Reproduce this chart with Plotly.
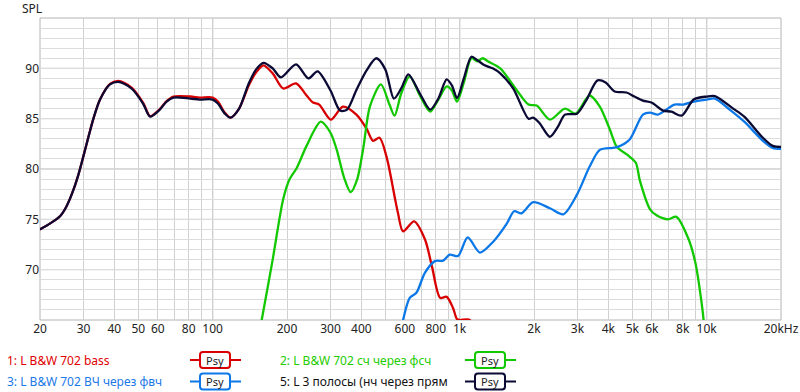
import plotly.graph_objects as go

# ---------------- data ----------------
bass_f = [20, 22, 24.1, 25.5, 27, 28.5, 30, 31.5, 33, 35, 38.4, 41.4, 44, 47.2, 52.4, 55.8, 61.1, 65.1, 69.4, 81.2,
          88.6, 100, 105, 112, 118, 128, 140, 150, 160.6, 175, 193, 217.6, 240, 255, 270, 301, 337, 382, 420, 446,
          474, 506, 548, 563, 590, 654, 724, 772, 834, 886, 940, 975, 1000, 1100, 1130]
bass_db = [74.0, 74.6, 75.3, 76.2, 77.6, 79.3, 81.3, 83.3, 85.1, 86.9, 88.45, 88.75, 88.55, 88.05, 86.55, 85.25, 85.95,
           86.75, 87.2, 87.2, 87.1, 87.1, 86.7, 85.6, 85.1, 86.0, 88.3, 89.6, 90.3, 89.5, 88.0, 88.5, 87.3, 86.6,
           86.4, 84.9, 86.2, 85.4, 84.0, 82.8, 83.1, 81.2, 77.0, 75.6, 73.8, 74.8, 73.0, 70.35, 67.2, 67.3, 66.2,
           65.1, 65.0, 65.0, 60.0]

mid_f = [150, 158, 175, 193, 205, 219, 240, 274, 300, 318, 340, 362, 385, 408, 433, 480, 520, 545, 580, 628, 690,
         760, 820, 886, 930, 976, 1040, 1116, 1180, 1240, 1300, 1460, 1700, 1900, 2050, 2320, 2669, 2950, 3360, 3694,
         4060, 4330, 4780, 5170, 5360, 5900, 6270, 6980, 7540, 8460, 9000, 9420, 9720, 10000]
mid_db = [62.0, 65.0, 71.0, 77.0, 79.0, 80.1, 82.3, 84.7, 83.6, 81.9, 79.2, 77.7, 79.0, 82.2, 86.2, 88.4, 86.4, 85.3,
          87.5, 89.2, 87.3, 85.7, 86.9, 88.2, 87.8, 86.7, 88.6, 91.0, 90.7, 91.0, 90.7, 90.0, 87.85, 86.4, 86.3, 84.9,
          86.0, 85.5, 87.3, 86.2, 83.9, 82.2, 81.4, 80.6, 78.9, 76.0, 75.4, 75.0, 75.25, 73.0, 70.7, 67.7, 65.0, 60.0]

tw_f = [560, 590, 628, 668, 724, 794, 857, 912, 985, 1078, 1208, 1370, 1554, 1662, 1780, 1986, 2320, 2630, 2985,
        3360, 3694, 4175, 4370, 4870, 5520, 5900, 6350, 6870, 7400, 8040, 8860, 10000, 10800, 12400, 14200, 16900,
        18500, 20000]
tw_db = [62.0, 65.0, 67.2, 67.7, 69.7, 70.85, 70.9, 71.5, 71.35, 73.2, 71.7, 72.8, 74.6, 75.8, 75.6, 76.7, 76.1, 75.5,
         77.45, 80.25, 81.9, 82.1, 82.2, 82.9, 85.4, 85.6, 85.4, 85.9, 86.4, 86.4, 86.7, 86.9, 87.0, 85.9, 84.7,
         82.8, 82.1, 82.0]

sum_f = [20, 22, 24.1, 25.5, 27, 28.5, 30, 31.5, 33, 35, 38.4, 41.4, 44, 47.2, 52.4, 55.8, 61.1, 65.1, 69.4, 81.2,
         88.6, 100, 105, 112, 118, 128, 140, 150, 160.6, 175, 189, 217.6, 244, 266, 300, 328, 350, 382, 420, 460,
         500, 542, 580, 620, 690, 760, 820, 886, 930, 976, 1040, 1116, 1180, 1262, 1360, 1460, 1646, 1900, 1980,
         2100, 2320, 2500, 2669, 2985, 3250, 3616, 3900, 4240, 4737, 5100, 5518, 5980, 6660, 7200, 7920, 8860,
         10000, 10800, 12800, 14200, 16900, 18500, 20000]
sum_db = [74.0, 74.6, 75.3, 76.2, 77.6, 79.3, 81.3, 83.3, 85.1, 86.9, 88.4, 88.65, 88.45, 87.95, 86.45, 85.2, 85.9,
          86.7, 87.1, 87.0, 86.9, 86.9, 86.5, 85.5, 85.1, 86.0, 88.5, 89.9, 90.55, 90.0, 89.1, 90.4, 89.0, 89.7,
          87.8, 85.8, 85.9, 87.85, 89.8, 91.0, 89.9, 87.0, 88.0, 89.4, 87.5, 85.9, 87.0, 88.9, 88.3, 87.05, 89.0,
          91.15, 90.8, 90.3, 90.0, 89.5, 88.0, 85.0, 85.1, 84.6, 83.2, 84.2, 85.4, 85.5, 86.8, 88.8, 88.6, 87.7,
          87.6, 87.2, 86.8, 86.6, 85.8, 85.7, 85.3, 86.9, 87.2, 87.25, 86.0, 85.2, 83.1, 82.3, 82.2]

series_names = ["1: L B&W 702 bass", "2: L B&W 702 сч через фсч",
                "3: L B&W 702 ВЧ через фвч", "5: L 3 полосы (нч через прям"]
colors = ["#d80000", "#12c800", "#0c78e8", "#0a0a34"]
label_colors = ["#e00000", "#22cc00", "#1a78e8", "#111111"]

x_grid = [20, 30, 40, 50, 60, 70, 80, 90, 100, 200, 300, 400, 500, 600, 700, 800, 900, 1000,
          2000, 3000, 4000, 5000, 6000, 7000, 8000, 9000, 10000, 20000]
x_labels = ["20", "30", "40", "50", "60", "", "80", "", "100", "200", "300", "400", "", "600", "", "800", "",
            "1k", "2k", "3k", "4k", "5k", "6k", "", "8k", "", "10k", "20kHz"]
x_major = [100, 1000, 10000]
y_grid = list(range(65, 96))
y_labels = [str(v) if v in (70, 75, 80, 85, 90) else "" for v in y_grid]
y_major = [70, 75, 80, 85, 90]

# ---------------- geometry ----------------
W, H = 800, 392
L, R, T, B = 40, 781, 18, 320
FONT = "Noto Sans, DejaVu Sans, sans-serif"


def px(xp):
    return (xp - L) / (R - L)


def py(yp):
    return (B - yp) / (B - T)


fig = go.Figure()
for f, d, c in [(bass_f, bass_db, colors[0]), (mid_f, mid_db, colors[1]),
                (tw_f, tw_db, colors[2]), (sum_f, sum_db, colors[3])]:
    fig.add_trace(go.Scatter(x=f, y=d, mode="lines", line=dict(color=c, width=2.3, shape="spline", smoothing=0.8),
                             showlegend=False, hoverinfo="skip"))

shapes = []
for xv in x_major:
    shapes.append(dict(type="line", xref="x", yref="paper", x0=xv, x1=xv, y0=0, y1=1, layer="below",
                       line=dict(color="#7a7a7a", width=1)))
for yv in y_major:
    shapes.append(dict(type="line", xref="paper", yref="y", x0=0, x1=1, y0=yv, y1=yv, layer="below",
                       line=dict(color="#b4b4b4", width=1)))
shapes.append(dict(type="rect", xref="paper", yref="paper", x0=0, x1=1, y0=0, y1=1, layer="below",
                   line=dict(color="#b4b4b4", width=1)))

annotations = [dict(text="SPL", xref="paper", yref="paper", x=px(20), y=py(9), xanchor="left", yanchor="middle",
                    showarrow=False, font=dict(family=FONT, size=12, color="#222"))]


def rounded_rect(x0, y0, x1, y1, r):
    def P(a, b):
        return f"{px(a):.5f},{py(b):.5f}"
    return (f"M {P(x0 + r, y0)} L {P(x1 - r, y0)} Q {P(x1, y0)} {P(x1, y0 + r)} "
            f"L {P(x1, y1 - r)} Q {P(x1, y1)} {P(x1 - r, y1)} L {P(x0 + r, y1)} "
            f"Q {P(x0, y1)} {P(x0, y1 - r)} L {P(x0, y0 + r)} Q {P(x0, y0)} {P(x0 + r, y0)} Z")


legend_pos = [(5, 360, 190), (278, 360, 465), (5, 381.5, 190), (278, 381.5, 465)]
for i, (tx, ty, sx) in enumerate(legend_pos):
    annotations.append(dict(text=series_names[i], xref="paper", yref="paper", x=px(tx), y=py(ty),
                            xanchor="left", yanchor="middle", showarrow=False,
                            font=dict(family=FONT, size=12, color=label_colors[i])))
    shapes.append(dict(type="line", xref="paper", yref="paper", x0=px(sx), x1=px(sx + 51), y0=py(ty), y1=py(ty),
                       line=dict(color=colors[i], width=2)))
    shapes.append(dict(type="path", xref="paper", yref="paper",
                       path=rounded_rect(sx + 10, ty - 8, sx + 40, ty + 8, 3),
                       fillcolor="white", line=dict(color=colors[i], width=2)))
    annotations.append(dict(text="Psy", xref="paper", yref="paper", x=px(sx + 25), y=py(ty),
                            xanchor="center", yanchor="middle", showarrow=False,
                            font=dict(family=FONT, size=11, color="#222")))

fig.update_layout(
    width=W, height=H, margin=dict(l=L, r=W - R, t=T, b=H - B, autoexpand=False),
    paper_bgcolor="white", plot_bgcolor="white",
    shapes=shapes, annotations=annotations,
    font=dict(family=FONT, size=12, color="#222"),
    xaxis=dict(type="log", range=[1.30103, 4.30103], tickvals=x_grid, ticktext=x_labels, showgrid=True,
               gridcolor="#d0d0d0", gridwidth=1, zeroline=False, ticks="", showline=False, automargin=False,
               tickfont=dict(family=FONT, size=12, color="#222")),
    yaxis=dict(range=[65, 95], tickvals=y_grid, ticktext=y_labels, showgrid=True, gridcolor="#dcdcdc",
               gridwidth=1, zeroline=False, ticks="", showline=False, automargin=False,
               tickfont=dict(family=FONT, size=12, color="#222")),
)
fig.write_html("out.html")
